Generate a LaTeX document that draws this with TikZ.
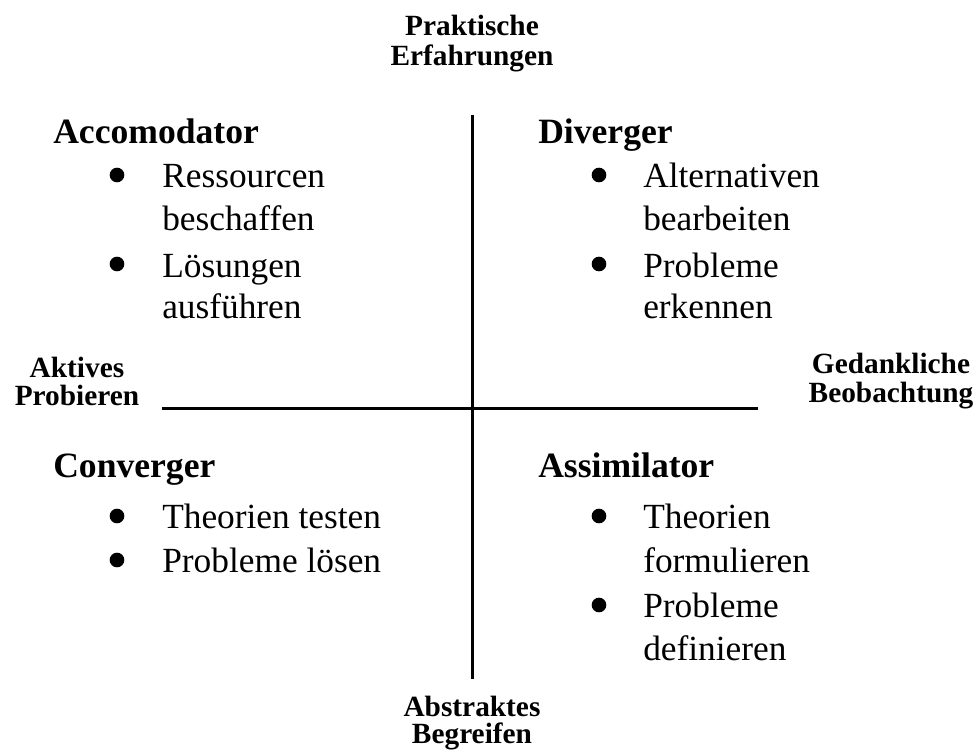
\documentclass[tikz,border=0pt]{standalone}
\usepackage{fontspec}
\setmainfont{Liberation Serif}
\begin{document}
\begin{tikzpicture}[x=0.75pt,y=0.75pt,yscale=-1,xscale=1,
    head/.style={anchor=base west,inner sep=0pt,font=\fontsize{26.7}{30}\selectfont\bfseries},
    item/.style={anchor=base west,inner sep=0pt,font=\fontsize{26.5}{30}\selectfont},
    axislabel/.style={anchor=base,inner sep=0pt,font=\fontsize{22}{26}\selectfont\bfseries},
    dot/.style={circle,fill=black,inner sep=0pt,minimum size=11pt}]
        \useasboundingbox (0,0) rectangle (975,751);
        %Axes
        \coordinate (top) at (472,115);
        \coordinate (bottom) at (472,679);
        \coordinate (left) at (162,408);
        \coordinate (right) at (758,408);
        \draw [line width=2.25pt] (top) -- (bottom);
        \draw [line width=2.25pt] (left) -- (right);
        % Axis labels
        \draw (472,35) node (prak) [axislabel] {Praktische};
        \draw (472,65) node (erfa) [axislabel] {Erfahrungen};
        \draw (77,377) node (akti) [axislabel] {Aktives};
        \draw (77,405) node (probi) [axislabel] {Probieren};
        \draw (891,373) node (gedank) [axislabel] {Gedankliche};
        \draw (891,402) node (beob) [axislabel] {Beobachtung};
        \draw (472,716) node (abstr) [axislabel] {Abstraktes};
        \draw (472,743) node (begr) [axislabel] {Begreifen};
        % Accomodator
        \draw (53,143) node (accom) [head] {Accomodator};
        \draw (117,175) node (accomA) [dot] {};
        \draw (162,187) node (ressA) [item] {Ressourcen};
        \draw (162,230) node (ressB) [item] {beschaffen};
        \draw (117,264) node (accomB) [dot] {};
        \draw (162,277) node (loesA) [item] {Lösungen};
        \draw (162,318) node (loesB) [item] {ausführen};
        % Diverger
        \draw (538,143) node (diver) [head] {Diverger};
        \draw (599,175) node (diverA) [dot] {};
        \draw (643,187) node (altA) [item] {Alternativen};
        \draw (643,230) node (altB) [item] {bearbeiten};
        \draw (599,264) node (diverB) [dot] {};
        \draw (643,277) node (erkA) [item] {Probleme};
        \draw (643,318) node (erkB) [item] {erkennen};
        % Converger
        \draw (53,477) node (conv) [head] {Converger};
        \draw (117,516) node (convA) [dot] {};
        \draw (162,528) node (testA) [item] {Theorien testen};
        \draw (117,560) node (convB) [dot] {};
        \draw (162,572) node (loesC) [item] {Probleme lösen};
        % Assimilator
        \draw (538,477) node (assim) [head] {Assimilator};
        \draw (599,516) node (assimA) [dot] {};
        \draw (643,528) node (formA) [item] {Theorien};
        \draw (643,572) node (formB) [item] {formulieren};
        \draw (599,605) node (assimB) [dot] {};
        \draw (643,617) node (defA) [item] {Probleme};
        \draw (643,660) node (defB) [item] {definieren};
    \end{tikzpicture}
\end{document}
